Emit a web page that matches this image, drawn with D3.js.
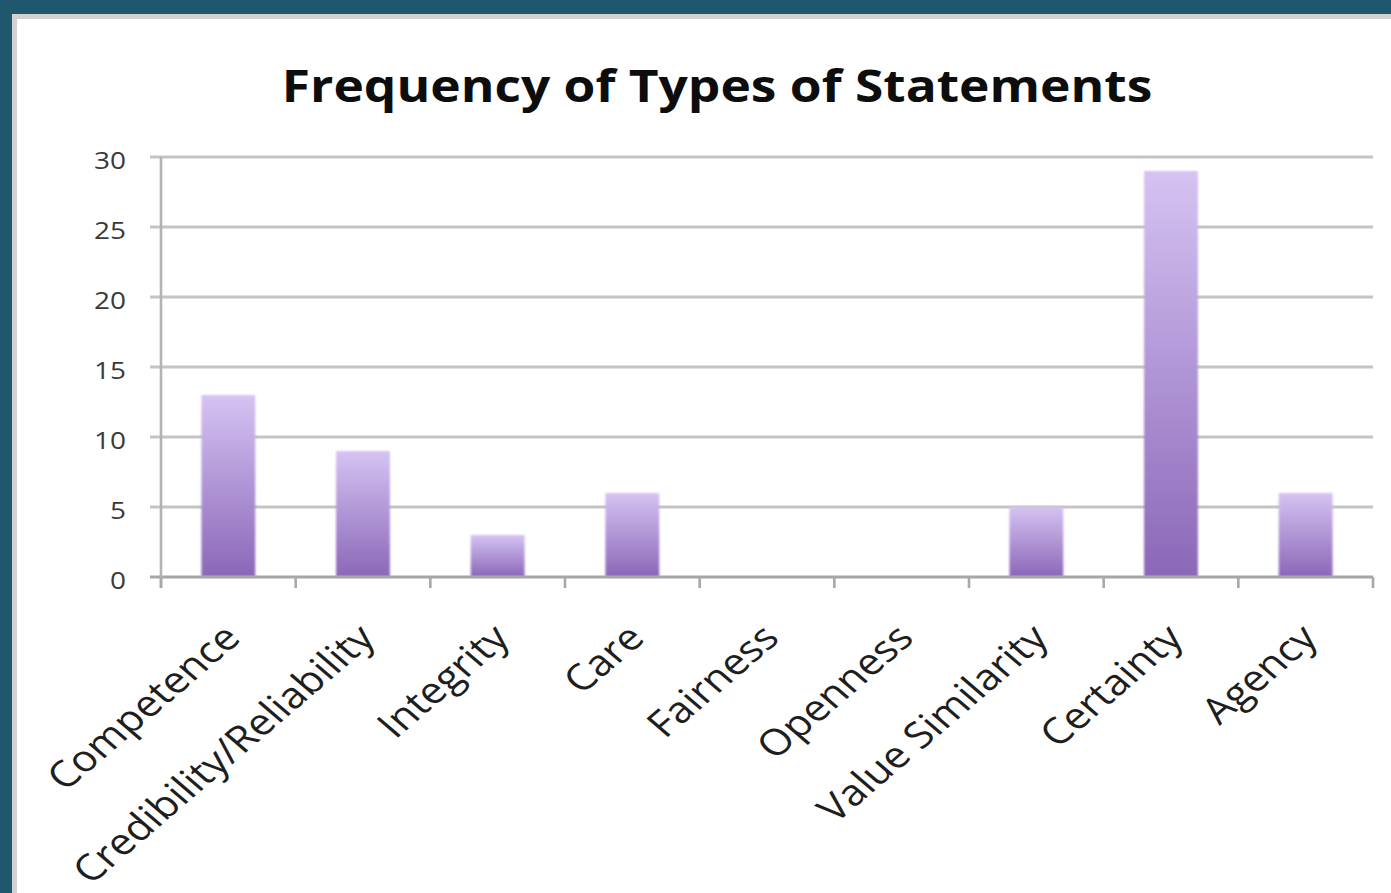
<!DOCTYPE html>
<html><head><meta charset="utf-8">
<script src="https://cdn.jsdelivr.net/npm/d3@7"></script>
<style>html,body{margin:0;padding:0;background:#1f586c;overflow:hidden}</style>
</head><body>
<script>
const categories = ["Competence","Credibility/Reliability","Integrity","Care","Fairness","Openness","Value Similarity","Certainty","Agency"];
const counts = [13, 9, 3, 6, 0, 0, 5, 29, 6];
const yTicks = [0, 5, 10, 15, 20, 25, 30];
const title = "Frequency of Types of Statements";

const W = 1391, H = 893;
const sx = 1.165; // horizontal text stretch seen in the reference
const svg = d3.select("body").append("svg").attr("width", W).attr("height", H);

const defs = svg.append("defs");
const grad = defs.append("linearGradient").attr("id","barGrad").attr("x1",0).attr("y1",0).attr("x2",0).attr("y2",1);
grad.append("stop").attr("offset","0%").attr("stop-color","#d5c3f3");
grad.append("stop").attr("offset","100%").attr("stop-color","#8b67b8");
const blur = defs.append("filter").attr("id","glow").attr("x","-20%").attr("y","-20%").attr("width","140%").attr("height","140%");
blur.append("feGaussianBlur").attr("stdDeviation",1.2);

// background teal + white panel
svg.append("rect").attr("width",W).attr("height",H).attr("fill","#1f586c");
svg.append("rect").attr("x",12).attr("y",14).attr("width",W-12).attr("height",H-14).attr("fill","#d2d2d2");
svg.append("rect").attr("x",17).attr("y",19).attr("width",W-17).attr("height",H-19).attr("fill","#ffffff");

const x0 = 161, x1 = 1373, yTop = 157, yBot = 577;
const x = d3.scaleBand().domain(categories).range([x0, x1]).paddingInner(0.6).paddingOuter(0.3);
const y = d3.scaleLinear().domain([0, 30]).range([yBot, yTop]);

// gridlines
svg.append("g").selectAll("line").data(yTicks.filter(d => d > 0)).join("line")
  .attr("x1", 150).attr("x2", x1).attr("y1", d => y(d)).attr("y2", d => y(d))
  .attr("stroke", "#c4c4c4").attr("stroke-width", 3);

// bars
svg.append("g").selectAll("rect").data(categories.map((c,i)=>({c, v: counts[i]})).filter(d=>d.v>0)).join("rect")
  .attr("x", d => x(d.c)).attr("width", x.bandwidth())
  .attr("y", d => y(d.v)).attr("height", d => y(0) - y(d.v))
  .attr("fill", "url(#barGrad)").attr("filter","url(#glow)");

// axes
svg.append("line").attr("x1", 150).attr("x2", x1).attr("y1", y(0)).attr("y2", y(0))
  .attr("stroke", "#a6a6a6").attr("stroke-width", 3);
svg.append("line").attr("x1", x0).attr("x2", x0).attr("y1", yTop).attr("y2", 588)
  .attr("stroke", "#b3b3b3").attr("stroke-width", 2.6);
const step = x.step();
svg.append("g").selectAll("line").data(d3.range(categories.length + 1)).join("line")
  .attr("x1", i => x0 + i * step).attr("x2", i => x0 + i * step)
  .attr("y1", y(0)).attr("y2", 588).attr("stroke", "#a8a8a8").attr("stroke-width", 2.6);

// y tick labels
svg.append("g").selectAll("text").data(yTicks).join("text")
  .attr("transform", d => `translate(126,${y(d) + 12}) scale(${sx},1)`)
  .attr("text-anchor","end")
  .attr("font-family","'Open Sans', sans-serif").attr("font-size", 24)
  .attr("fill","#3a3a3a").text(d => d);

// category labels
svg.append("g").selectAll("text").data(categories).join("text")
  .attr("transform", d => `translate(${x(d) + x.bandwidth()/2 + 14},${640}) scale(${sx},1) rotate(-45)`)
  .attr("text-anchor","end")
  .attr("font-family","'Open Sans', sans-serif").attr("font-size", 36.5)
  .attr("fill","#1e1e1e").text(d => d);

// title
svg.append("text").attr("transform", `translate(717,102) scale(${sx},1)`)
  .attr("text-anchor","middle").attr("font-family","'Open Sans', sans-serif")
  .attr("font-weight","bold").attr("font-size", 44.2).attr("fill","#0d0d0d").text(title);
</script>
</body></html>
